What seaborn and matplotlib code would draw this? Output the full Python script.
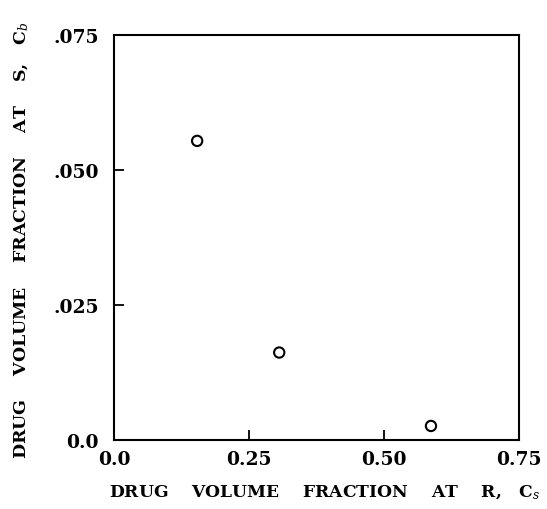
import matplotlib
matplotlib.use("Agg")
import matplotlib.pyplot as plt
import seaborn as sns
import pandas as pd

# Data
cs_values = [0.154, 0.306, 0.587]
cb_values = [0.0554, 0.0162, 0.0026]
x_ticks = [0.0, 0.25, 0.50, 0.75]
x_tick_labels = ["0.0", "0.25", "0.50", "0.75"]
y_ticks = [0.0, 0.025, 0.050, 0.075]
y_tick_labels = ["0.0", ".025", ".050", ".075"]

sns.set_style("ticks")
plt.rcParams['font.family'] = ['DejaVu Serif']
plt.rcParams['mathtext.fontset'] = 'dejavuserif'
plt.rcParams['text.color'] = 'black'
plt.rcParams['axes.labelcolor'] = 'black'
plt.rcParams['xtick.color'] = 'black'
plt.rcParams['ytick.color'] = 'black'

df = pd.DataFrame({"cs": cs_values, "cb": cb_values})

fig = plt.figure(figsize=(5.47, 5.10), dpi=100)
ax = fig.add_axes([0.2084, 0.1353, 0.7404, 0.794])

sns.scatterplot(data=df, x="cs", y="cb", ax=ax, marker="o", s=55,
                facecolor="none", edgecolor="black", linewidth=1.5, legend=False)

ax.set_xlim(0, 0.75)
ax.set_ylim(0, 0.075)
ax.set_xticks(x_ticks)
ax.set_xticklabels(x_tick_labels)
ax.set_yticks(y_ticks)
ax.set_yticklabels(y_tick_labels)
for lab in ax.get_xticklabels() + ax.get_yticklabels():
    lab.set_fontweight("bold")
    lab.set_fontsize(13.5)
    lab.set_color("black")

ax.tick_params(direction="in", length=7, width=1.3, color="black", pad=7)
ax.tick_params(axis="y", pad=11)
for sp in ax.spines.values():
    sp.set_visible(True)
    sp.set_linewidth(1.5)
    sp.set_color("black")

ax.set_xlabel("DRUG    VOLUME    FRACTION    AT    R,   C$_s$",
              fontsize=12.3, fontweight="bold", color="black")
ax.set_ylabel("DRUG    VOLUME    FRACTION    AT    S,   C$_b$",
              fontsize=12.5, fontweight="bold", color="black")
ax.yaxis.set_label_coords(-0.205, 0.494)
ax.xaxis.set_label_coords(0.52, -0.105)

fig.savefig("out.png", dpi=100, facecolor="white")
